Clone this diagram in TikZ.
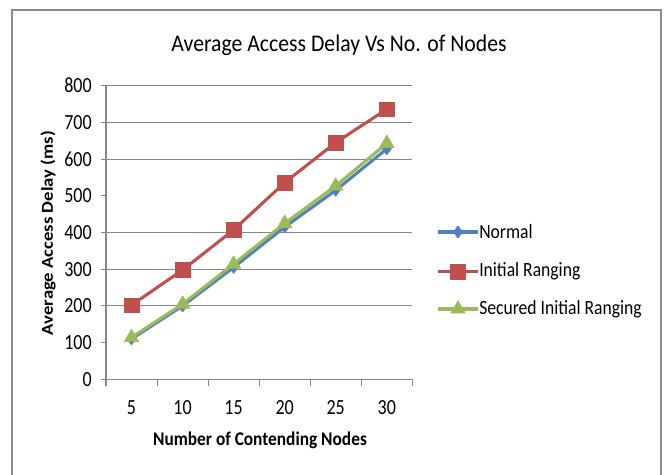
\documentclass[tikz,border=0pt]{standalone}
\usepackage{fontspec}
\setmainfont{Carlito}
\usetikzlibrary{plotmarks}
\definecolor{sblue}{HTML}{4F81BD}
\definecolor{sred}{HTML}{C0504D}
\definecolor{sgreen}{HTML}{9BBB59}
\definecolor{gridc}{HTML}{868686}
\definecolor{framec}{HTML}{8C8C8C}
\begin{document}
\begin{tikzpicture}[x=0.75pt,y=-0.75pt,
  gridline/.style={draw=gridc,line width=0.8pt},
  ticklbl/.style={font=\fontsize{13.5}{15}\selectfont,inner sep=0pt,yscale=1.2},
  axtitle/.style={font=\bfseries\fontsize{13}{15}\selectfont,inner sep=0pt,yscale=1.12},
  legtxt/.style={font=\fontsize{13.2}{15}\selectfont,inner sep=0pt,anchor=west,yscale=1.15},
  sernormal/.style={draw=sblue,line width=2.3pt,line join=round,mark=diamond*,mark size=4.5pt,mark options={fill=sblue,draw=sblue,line width=0.5pt}},
  serinit/.style={draw=sred,line width=2.3pt,line join=round,mark=square*,mark size=5.5pt,mark options={fill=sred,draw=sred,line width=0.5pt}},
  sersec/.style={draw=sgreen,line width=2.3pt,line join=round,mark=triangle*,mark size=6.2pt,mark options={fill=sgreen,draw=sgreen,line width=0.5pt}}]
\useasboundingbox (0,0) rectangle (668,475);
% frame
\draw[framec,line width=1.5pt] (12,480) -- (12,10) -- (661,10) -- (661,480);
% title
\node[font=\fontsize{16.3}{19}\selectfont,inner sep=0pt,yscale=1.1] (title) at (339,45) {Average Access Delay Vs No. of Nodes};
% gridlines (y = 379.3 - v*0.367)
\foreach \v in {800,700,600,400,300,200}{
  \draw[gridline] (101,{379.3-\v*0.367}) -- (412,{379.3-\v*0.367});
}
\foreach \v in {500,100}{
  \draw[gridline] (101,{379.3-\v*0.367}) -- (106,{379.3-\v*0.367});
}
\foreach \v in {0,100,...,800}{
  \node[ticklbl,anchor=east] at (92,{379.3-\v*0.367}) {\v};
}
% axes
\draw[gridline] (106,379.3) -- (106,85.7);
\draw[gridline] (101,379.3) -- (412,379.3);
\foreach \i in {0,...,6}{
  \draw[gridline] ({106+\i*51.05},379.3) -- ({106+\i*51.05},386);
}
\foreach \i/\l in {0/5,1/10,2/15,3/20,4/25,5/30}{
  \node[ticklbl] at ({131.5+\i*51.05},408) {\l};
}
\node[axtitle] (xt) at (260,440) {Number of Contending Nodes};
\node[axtitle,rotate=90,font=\bfseries\fontsize{12.5}{15}\selectfont] (yt) at (48,233) {Average Access Delay (ms)};
% series
\draw[sernormal] plot coordinates {(131.5,{379.3-110*0.367}) (182.6,{379.3-200*0.367}) (233.6,{379.3-305*0.367}) (284.7,{379.3-415*0.367}) (335.7,{379.3-515*0.367}) (386.8,{379.3-628*0.367})};
\draw[serinit] plot coordinates {(131.5,{379.3-202*0.367}) (182.6,{379.3-298*0.367}) (233.6,{379.3-407*0.367}) (284.7,{379.3-536*0.367}) (335.7,{379.3-645*0.367}) (386.8,{379.3-736*0.367})};
\draw[sersec] plot coordinates {(131.5,{379.3-114*0.367}) (182.6,{379.3-205*0.367}) (233.6,{379.3-314*0.367}) (284.7,{379.3-425*0.367}) (335.7,{379.3-527*0.367}) (386.8,{379.3-643*0.367})};
% legend
\draw[sernormal,mark=none] (438,232) -- (478,232);
\draw[sernormal,mark indices={2}] plot coordinates {(438,232) (458,232) (478,232)};
\node[legtxt] (l1) at (479,232) {Normal};
\draw[serinit,mark=none] (438,271.5) -- (478,271.5);
\draw[serinit,mark indices={2}] plot coordinates {(438,271.5) (458,271.5) (478,271.5)};
\node[legtxt] (l2) at (479,271.5) {Initial Ranging};
\draw[sersec,mark=none] (438,309) -- (478,309);
\draw[sersec,mark indices={2}] plot coordinates {(438,309) (458,309) (478,309)};
\node[legtxt] (l3) at (479,309) {Secured Initial Ranging};
\end{tikzpicture}
\end{document}
